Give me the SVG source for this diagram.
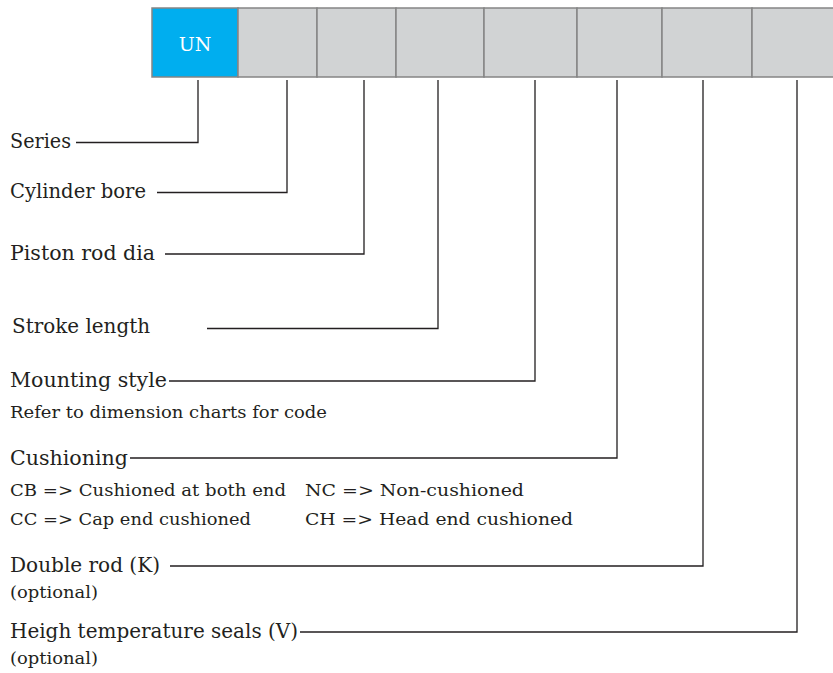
<svg xmlns="http://www.w3.org/2000/svg" width="833" height="673" viewBox="0 0 833 673">
<style>
.box{fill:#D1D3D4;stroke:#858585;stroke-width:1.5}
.blue{fill:#00AEEF}
.lbl{font-family:"DejaVu Serif","Liberation Serif",serif;font-size:20px;fill:#231F20}
.sm{font-family:"DejaVu Serif","Liberation Serif",serif;font-size:17.5px;fill:#231F20}
.ln{fill:none;stroke:#231F20;stroke-width:1.3}
</style>
<rect width="833" height="673" fill="#fff"/>
<g id="code-boxes">
<g id="box-series"><rect class="box blue" x="152" y="8" width="86" height="69"/><text x="195" y="51" text-anchor="middle" font-family="DejaVu Serif, Liberation Serif, serif" font-size="19" fill="#fff">UN</text></g>
<g id="box-bore"><rect class="box" x="238" y="8" width="79" height="69"/></g>
<g id="box-rod"><rect class="box" x="317" y="8" width="79" height="69"/></g>
<g id="box-stroke"><rect class="box" x="396" y="8" width="88" height="69"/></g>
<g id="box-mounting"><rect class="box" x="484" y="8" width="93" height="69"/></g>
<g id="box-cushion"><rect class="box" x="577" y="8" width="85" height="69"/></g>
<g id="box-double"><rect class="box" x="662" y="8" width="90" height="69"/></g>
<g id="box-seals"><rect class="box" x="752" y="8" width="85" height="69"/></g>
</g>
<g id="connectors">
<polyline class="ln" points="198,80 198,142.5 76,142.5"/>
<polyline class="ln" points="287,80 287,192.5 157,192.5"/>
<polyline class="ln" points="364,80 364,254 165,254"/>
<polyline class="ln" points="438,80 438,328.5 207,328.5"/>
<polyline class="ln" points="535,80 535,381 169,381"/>
<polyline class="ln" points="617,80 617,458 130,458"/>
<polyline class="ln" points="703,80 703,566 170,566"/>
<polyline class="ln" points="797,80 797,632 300,632"/>
</g>
<g id="label-series"><text class="lbl" x="10" y="148" textLength="61" lengthAdjust="spacingAndGlyphs">Series</text></g>
<g id="label-bore"><text class="lbl" x="10" y="198" textLength="136" lengthAdjust="spacingAndGlyphs">Cylinder bore</text></g>
<g id="label-rod"><text class="lbl" x="10" y="260" textLength="145" lengthAdjust="spacingAndGlyphs">Piston rod dia</text></g>
<g id="label-stroke"><text class="lbl" x="12" y="333" textLength="138" lengthAdjust="spacingAndGlyphs">Stroke length</text></g>
<g id="label-mounting"><text class="lbl" x="10" y="387" textLength="157" lengthAdjust="spacingAndGlyphs">Mounting style</text><text class="sm" x="10" y="418" textLength="317" lengthAdjust="spacingAndGlyphs">Refer to dimension charts for code</text></g>
<g id="label-cushion"><text class="lbl" x="10" y="465" textLength="118" lengthAdjust="spacingAndGlyphs">Cushioning</text>
<text class="sm" x="10" y="496" textLength="276" lengthAdjust="spacingAndGlyphs">CB =&gt; Cushioned at both end</text>
<text class="sm" x="305" y="496" textLength="219" lengthAdjust="spacingAndGlyphs">NC =&gt; Non-cushioned</text>
<text class="sm" x="10" y="525" textLength="241" lengthAdjust="spacingAndGlyphs">CC =&gt; Cap end cushioned</text>
<text class="sm" x="305" y="525" textLength="268" lengthAdjust="spacingAndGlyphs">CH =&gt; Head end cushioned</text></g>
<g id="label-double"><text class="lbl" x="10" y="572" textLength="150" lengthAdjust="spacingAndGlyphs">Double rod (K)</text><text class="sm" x="10" y="598" textLength="88" lengthAdjust="spacingAndGlyphs">(optional)</text></g>
<g id="label-seals"><text class="lbl" x="10" y="638" textLength="288" lengthAdjust="spacingAndGlyphs">Heigh temperature seals (V)</text><text class="sm" x="10" y="664" textLength="88" lengthAdjust="spacingAndGlyphs">(optional)</text></g>
</svg>
